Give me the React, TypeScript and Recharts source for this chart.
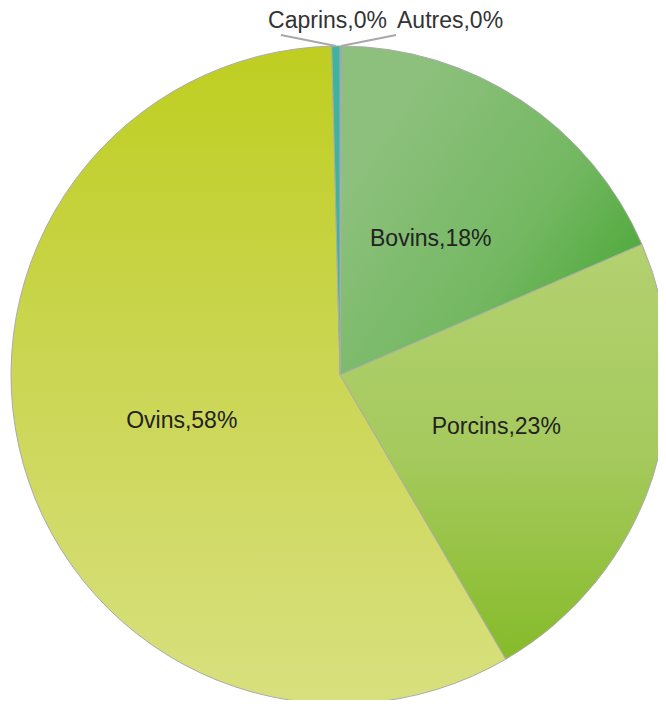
import { Cell, Pie, PieChart } from "recharts";

const categories = ["Autres", "Bovins", "Porcins", "Ovins", "Caprins"];
const values = [0.1, 18.4, 23.1, 58.0, 0.4];
const fills = ["url(#gAutres)", "url(#gBovins)", "url(#gPorcins)", "url(#gOvins)", "#3fb39e"];

const data = categories.map((name, i) => ({ name, value: values[i] }));
const total = values.reduce((a, b) => a + b, 0);

const RAD = Math.PI / 180;

const renderLabel = (props: any) => {
  const { cx, cy, midAngle, outerRadius, index, value } = props;
  const name = categories[index];
  const text = `${name},${Math.round((value / total) * 100)}%`;
  const pct = value / total;

  if (pct < 0.02) {
    // tiny slices: short leader line going up and out, text above the pie
    const left = name === "Caprins";
    const ex = cx + outerRadius * Math.cos(-midAngle * RAD);
    const ey = cy + outerRadius * Math.sin(-midAngle * RAD);
    const ox = left ? ex - 55 : ex + 55;
    const oy = ey - 11;
    return (
      <g>
        <line stroke="#a8a8a8" strokeWidth={2} x1={ex} x2={ox} y1={ey} y2={oy} />
        <text
          fill="#333"
          fontFamily="Liberation Sans, Arial, sans-serif"
          fontSize={23}
          textAnchor={left ? "end" : "start"}
          x={left ? cx + 47 : cx + 57}
          y={cy - outerRadius - 18}
        >
          {text}
        </text>
      </g>
    );
  }

  const r = outerRadius * 0.5;
  const x = cx + r * Math.cos(-midAngle * RAD);
  const y = cy + r * Math.sin(-midAngle * RAD);
  return (
    <text
      dominantBaseline="central"
      fill="#222"
      fontFamily="Liberation Sans, Arial, sans-serif"
      fontSize={23}
      textAnchor="middle"
      x={x}
      y={y}
    >
      {text}
    </text>
  );
};

export default function App() {
  return (
    <PieChart height={692} width={654}>
      <defs>
        <linearGradient id="gBovins" x1="0.2" x2="1" y1="0.2" y2="0.8">
          <stop offset="0%" stopColor="#8cc07c" />
          <stop offset="55%" stopColor="#74b862" />
          <stop offset="100%" stopColor="#48a634" />
        </linearGradient>
        <linearGradient id="gPorcins" x1="0" x2="0" y1="0" y2="1">
          <stop offset="0%" stopColor="#b3d170" />
          <stop offset="50%" stopColor="#a6ca5e" />
          <stop offset="100%" stopColor="#86bb2a" />
        </linearGradient>
        <linearGradient id="gOvins" x1="0" x2="0" y1="0" y2="1">
          <stop offset="0%" stopColor="#bfce20" />
          <stop offset="50%" stopColor="#cbd654" />
          <stop offset="100%" stopColor="#d8e07e" />
        </linearGradient>
        <linearGradient id="gAutres" x1="0" x2="0" y1="0" y2="1">
          <stop offset="0%" stopColor="#5ab0b0" />
          <stop offset="100%" stopColor="#5ab0b0" />
        </linearGradient>
      </defs>
      <Pie
        cx={327}
        cy={362}
        data={data}
        dataKey="value"
        endAngle={-270}
        innerRadius={0}
        isAnimationActive={false}
        label={renderLabel}
        labelLine={false}
        outerRadius={329}
        startAngle={90}
      >
        {data.map((d, i) => (
          <Cell fill={fills[i]} key={d.name} stroke="#ababab" strokeWidth={1} />
        ))}
      </Pie>
    </PieChart>
  );
}
